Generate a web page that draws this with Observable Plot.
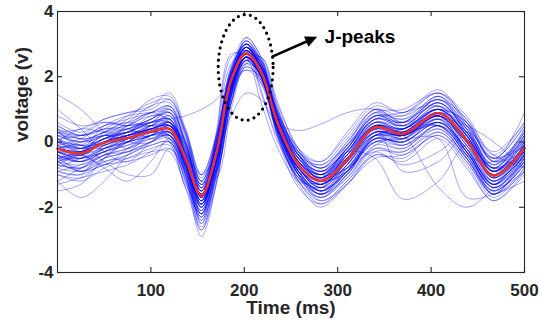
<!DOCTYPE html>
<html><head><meta charset="utf-8">
<script src="https://cdn.jsdelivr.net/npm/d3@7"></script>
<script src="https://cdn.jsdelivr.net/npm/@observablehq/plot@0.6"></script>
<style>html,body{margin:0;padding:0;background:#fff}#chart{width:540px;height:327px}</style>
</head><body><div id="chart"></div>
<script>
// time knots (ms) at which each trace was read
const knots = [0,25,50,75,100,120,137,154,170,186,202,218,236,258,282,310,340,370,408,438,467,500];
// mean (red) waveform
const meanV = [-0.2,-0.35,-0.02,0.12,0.32,0.4,-0.5,-1.65,-0.35,1.9,2.72,2.15,0.55,-0.7,-1.19,-0.55,0.45,0.25,0.88,0.05,-1.03,-0.19];
// individual (blue) waveforms
const traceValues = [
[-0.1,-0.2,0.1,0.3,0.6,0.7,-0.3,-1.8,-0.4,2.1,3.1,2.5,0.7,-0.6,-1.2,-0.4,0.6,0.4,1.1,0.2,-1.0,-0.1],
[-0.5,-0.6,-0.3,-0.1,0.1,0.2,-0.8,-2.0,-0.6,1.7,2.6,2.0,0.3,-1.0,-1.5,-0.8,0.2,0.0,0.6,-0.2,-1.3,-0.4],
[0.2,0.0,0.3,0.4,0.7,0.9,0.1,-1.2,0.0,2.0,2.9,2.3,0.8,-0.4,-0.9,-0.2,0.7,0.5,1.2,0.4,-0.7,0.1],
[-0.8,-0.9,-0.5,-0.3,0.0,0.1,-1.0,-2.4,-1.0,1.5,2.8,2.4,0.6,-0.9,-1.6,-1.0,0.1,0.0,0.7,-0.3,-1.4,-0.6],
[0.0,-0.3,0.0,0.2,0.3,0.6,-0.2,-1.4,-0.1,2.2,3.0,2.2,0.4,-0.8,-1.3,-0.7,0.4,0.3,1.0,0.0,-1.2,-0.3],
[-0.3,-0.5,-0.2,0.0,0.4,0.3,-0.9,-2.2,-0.8,1.6,2.5,1.9,0.4,-0.8,-1.4,-0.6,0.5,0.3,0.9,0.1,-1.1,-0.2],
[0.4,0.2,0.5,0.7,0.9,1.1,0.3,-1.0,0.2,2.3,3.2,2.6,1.0,-0.3,-0.8,0.0,0.9,0.7,1.4,0.6,-0.6,0.3],
[-1.0,-1.2,-0.8,-0.5,-0.2,-0.1,-1.2,-2.6,-1.2,1.2,2.4,2.1,0.5,-1.2,-1.8,-1.2,-0.2,-0.3,0.4,-0.5,-1.6,-0.8],
[-0.2,-0.1,0.2,0.2,0.5,0.5,-0.6,-1.9,-0.5,1.8,2.9,2.4,0.8,-0.5,-1.0,-0.4,0.3,0.2,0.8,0.0,-0.9,0.0],
[0.1,-0.1,0.1,0.5,0.8,0.8,0.0,-1.5,-0.3,1.9,2.7,2.0,0.3,-0.9,-1.1,-0.3,0.7,0.6,1.3,0.3,-0.8,0.2],
[-0.4,-0.6,-0.1,0.1,0.4,0.2,-1.2,-2.1,0.2,2.6,2.8,1.6,0.0,-1.0,-1.3,-0.3,0.6,0.4,1.0,-0.3,-1.2,-0.1],
[-0.6,-0.4,-0.2,0.0,0.2,0.5,-0.1,-1.3,-0.9,1.2,2.6,2.6,1.1,-0.2,-1.1,-0.8,0.2,0.3,0.9,0.4,-0.8,-0.5],
[0.3,0.1,0.2,0.3,0.6,0.7,-0.6,-1.6,0.0,2.3,3.0,2.1,0.2,-1.1,-1.4,-0.5,0.5,0.2,0.7,-0.2,-1.3,-0.2],
[-0.7,-0.8,-0.4,-0.2,0.1,0.3,-0.4,-1.7,-0.7,1.4,2.5,2.3,0.9,-0.4,-1.2,-0.9,0.0,0.1,0.8,0.3,-0.9,-0.4],
[-0.1,-0.3,0.1,0.3,0.5,0.4,-0.7,-2.0,-0.4,1.9,2.8,2.2,0.5,-0.7,-1.3,-0.5,0.5,0.4,1.1,0.1,-1.1,-0.2],
[1.45,1.0,0.3,-0.2,0.2,0.5,-0.3,-1.3,-0.2,1.6,2.2,1.8,0.6,-0.4,-0.8,-0.3,0.6,0.5,0.9,0.3,-0.5,0.5],
[-1.2,-1.7,-1.2,-0.4,0.3,0.6,-0.4,-1.9,-0.6,1.7,2.6,2.0,0.5,-0.8,-1.3,-0.6,0.4,0.2,0.8,0.0,-1.0,-0.3],
[-0.5,-0.4,-0.8,-1.2,-0.6,0.1,-0.8,-2.2,-0.9,1.5,2.5,2.0,0.4,-0.9,-1.5,-0.9,0.1,0.0,0.6,-0.3,-1.4,-0.5],
[-0.3,-0.2,0.0,0.2,0.4,0.5,-0.6,-1.6,-0.3,1.8,2.6,2.0,0.6,0.35,0.55,0.9,1.0,0.5,0.5,-0.3,-1.2,-0.4],
[-0.3,-0.5,-0.1,0.1,0.3,0.4,-0.5,-1.5,-0.4,1.7,2.6,2.1,0.6,-0.6,-1.0,-0.3,-0.5,-1.75,-1.2,-0.1,-0.8,-0.3],
[-0.4,-0.6,-0.3,0.0,0.2,0.3,-0.7,-1.8,-0.5,1.6,2.5,2.0,0.4,-0.8,-1.4,-0.7,0.2,0.1,0.1,-1.7,-1.6,-1.2],
[0.0,-0.2,0.1,0.4,0.6,0.6,-0.4,-1.7,-0.3,2.0,2.9,2.3,0.6,-0.6,-1.1,-0.4,0.5,0.3,0.5,-0.4,-0.6,0.9],
[-0.6,-0.7,-0.4,-0.2,0.2,0.3,-0.6,-1.8,-0.5,1.8,2.7,2.1,0.5,-0.7,-1.2,-0.8,-0.3,-0.7,-0.3,0.3,-0.4,-0.8],
[-0.2,0.0,0.3,0.5,0.6,0.7,0.8,1.0,1.3,1.9,2.2,2.0,0.6,-0.5,-0.9,-0.3,0.5,0.4,1.0,0.2,-0.9,-0.2],
[-0.2,-0.3,0.0,0.1,0.2,0.3,-0.3,-1.0,-0.4,0.8,1.5,1.3,0.4,-0.5,-0.9,-0.5,0.2,0.2,0.6,0.1,-0.8,-0.3],
[-0.3,-0.5,-0.3,0.0,0.4,0.6,-1.0,-2.9,-1.3,1.4,2.9,2.5,0.6,-0.9,-1.6,-0.9,0.3,0.2,0.9,0.0,-1.3,-0.4],
[0.0,-0.2,0.2,0.4,0.7,0.9,-0.8,-2.7,-1.0,1.6,3.2,2.6,0.8,-0.7,-1.5,-0.7,0.5,0.3,1.0,0.2,-1.1,-0.1],
[-0.4,-0.6,-0.2,0.1,0.5,0.8,-0.6,-2.5,-0.9,1.5,3.0,2.5,0.7,-1.0,-1.7,-1.0,0.2,0.1,0.8,-0.1,-1.4,-0.5],
[0.3,0.4,0.7,0.9,1.1,1.5,0.4,-1.1,0.1,2.1,2.9,2.3,0.6,-0.6,-1.0,-0.3,0.7,0.5,1.2,0.3,-0.9,0.0],
[0.5,0.2,0.4,0.8,1.2,1.3,0.2,-1.3,-0.1,2.0,2.8,2.2,0.7,-0.5,-1.1,-0.4,0.8,0.8,1.5,0.5,-0.7,0.4],
[-0.1,0.1,0.5,0.6,0.9,1.0,0.0,-1.5,-0.2,1.9,3.1,2.5,0.9,-0.4,-1.0,-0.2,0.8,0.6,1.3,0.5,-0.8,0.2],
[-0.9,-1.0,-0.7,-0.6,-0.4,-0.2,-1.1,-2.3,-1.1,1.3,2.3,1.9,0.3,-1.1,-1.7,-1.1,-0.1,-0.2,0.5,-0.4,-1.5,-0.7],
[-1.3,-1.1,-0.9,-0.7,-0.3,0.0,-0.9,-2.1,-0.8,1.4,2.4,1.8,0.2,-1.2,-1.9,-1.3,-0.3,-0.3,0.3,-0.5,-1.6,-0.9],
[-0.6,-0.9,-0.6,-0.4,0.0,0.2,-0.7,-1.9,-0.6,1.6,2.6,2.1,0.5,-0.9,-1.5,-0.9,0.1,0.0,0.6,-0.2,-1.3,-0.6],
[-0.2,-0.4,0.0,0.2,0.4,0.5,-0.4,-1.6,-0.3,2.0,2.8,2.2,0.6,-0.7,-1.2,-0.5,0.5,0.3,0.9,0.1,-1.0,-0.2],
[-0.3,-0.3,0.1,0.0,0.3,0.4,-0.5,-1.7,-0.4,1.8,2.7,2.1,0.5,-0.8,-1.3,-0.6,0.4,0.2,0.8,0.0,-1.1,-0.3],
[0.1,-0.2,-0.1,0.2,0.5,0.6,-0.3,-1.5,-0.2,2.0,2.8,2.3,0.7,-0.6,-1.1,-0.5,0.6,0.4,1.0,0.2,-0.9,-0.1],
[-0.4,-0.5,0.1,0.3,0.3,0.2,-0.7,-1.8,-0.5,1.7,2.6,2.0,0.4,-0.8,-1.2,-0.4,0.5,0.2,0.8,-0.1,-1.0,-0.2],
[0.0,-0.1,-0.2,0.1,0.4,0.6,-0.5,-1.6,-0.2,2.1,2.9,2.1,0.3,-0.9,-1.3,-0.6,0.3,0.3,1.0,0.2,-1.2,-0.4],
[-0.5,-0.3,0.0,0.3,0.3,0.4,-0.4,-1.7,-0.5,1.8,2.7,2.2,0.6,-0.6,-1.0,-0.5,0.4,0.1,0.9,0.1,-1.0,-0.1],
[-0.3,-0.4,0.0,0.2,0.3,0.5,0.0,-1.2,-1.1,1.0,2.4,2.6,1.2,-0.3,-1.2,-0.9,0.1,0.3,0.9,0.5,-0.6,-0.3],
[0.2,0.0,0.2,0.1,0.3,0.6,-0.2,-1.4,-0.9,1.2,2.5,2.5,1.0,-0.4,-1.0,-0.8,0.2,0.4,1.0,0.6,-0.5,-0.1],
[-0.1,-0.4,0.0,0.3,0.5,0.1,-1.3,-1.9,0.3,2.7,2.6,1.2,-0.2,-1.2,-1.2,-0.2,0.6,0.3,0.8,-0.4,-1.3,0.0],
[-0.5,-0.5,-0.2,0.2,0.4,0.0,-1.4,-2.2,0.0,2.4,2.7,1.5,0.1,-1.1,-1.4,-0.3,0.5,0.2,0.7,-0.5,-1.5,-0.3],
[-0.2,-0.3,0.0,0.2,0.4,0.5,-0.5,-1.7,-0.4,1.8,2.7,2.1,0.5,-0.7,-1.2,-0.5,0.4,0.2,-1.4,-2.0,-1.4,-0.4],
[0.6,0.3,0.7,0.9,1.0,1.3,0.3,-1.2,0.1,2.2,3.1,2.4,0.9,-0.2,-0.6,0.2,1.1,0.9,1.6,0.6,-0.5,0.5],
[-1.0,-1.1,-0.6,-0.5,-0.3,-0.3,-1.4,-2.7,-1.3,1.2,2.3,1.9,0.1,-1.4,-1.9,-1.2,-0.4,-0.6,0.1,-0.8,-1.8,-1.0],
[0.4,-0.2,0.5,0.8,0.9,0.9,-0.2,-1.5,-0.1,2.2,3.0,2.4,0.9,-0.3,-0.7,0.1,1.0,0.8,1.3,0.7,-0.6,0.2],
[-0.9,-1.0,-0.2,0.0,0.2,0.6,-0.6,-2.2,-0.7,1.6,2.7,2.2,0.3,-1.2,-1.7,-1.0,-0.2,-0.4,0.2,-0.6,-1.7,-0.8],
[0.1,0.2,0.6,0.5,0.6,1.0,0.2,-1.4,0.1,2.2,3.0,2.3,0.8,-0.2,-0.8,0.0,1.0,0.6,1.2,0.3,-0.7,0.3],
[-0.7,-0.4,-0.7,-0.2,0.2,0.1,-0.9,-2.3,-0.8,1.5,2.6,2.1,0.2,-1.1,-1.6,-1.1,-0.1,0.2,0.5,-0.4,-1.4,-0.9],
[0.3,0.0,0.2,0.6,1.1,1.2,0.4,-1.0,0.2,2.1,2.9,2.3,0.7,-0.4,-0.7,-0.1,0.9,1.0,1.5,0.8,-0.4,0.6],
[-0.6,-0.9,-0.7,-0.4,-0.1,0.0,-1.1,-2.5,-1.0,1.4,2.6,2.2,0.5,-1.0,-1.8,-1.3,-0.4,-0.5,0.3,-0.6,-1.6,-0.6],
[0.0,0.4,0.3,0.3,0.8,0.7,-0.1,-1.3,-0.1,2.0,2.8,2.2,0.7,-0.3,-0.8,-0.1,0.8,0.7,1.1,0.5,-0.5,0.0],
[-0.5,-0.8,-0.1,0.4,0.1,0.2,-1.0,-2.3,-0.6,1.7,2.8,2.3,0.5,-1.0,-1.6,-0.8,0.0,-0.2,0.5,-0.4,-1.6,-0.5],
[0.2,0.1,-0.1,0.3,0.7,1.0,0.0,-1.4,-0.2,2.0,2.9,2.3,0.6,-0.5,-1.0,-0.2,0.9,0.4,1.4,0.2,-0.8,0.3],
[-0.8,-0.5,-0.3,0.2,0.3,0.3,-0.7,-2.0,-0.6,1.7,2.6,2.1,0.4,-0.9,-1.5,-0.9,0.0,0.1,0.6,-0.3,-1.4,-0.6],
[0.5,0.2,0.4,0.4,0.6,0.9,-0.1,-1.5,-0.2,2.0,2.9,2.3,0.8,-0.4,-0.9,-0.2,0.8,0.6,1.3,0.4,-0.8,0.4],
[-0.4,-0.9,-0.5,0.1,0.3,0.4,-0.8,-2.2,-0.7,1.6,2.7,2.2,0.4,-1.0,-1.6,-0.8,0.1,-0.1,0.5,-0.2,-1.6,-0.4],
[0.1,-0.3,0.3,0.6,0.5,0.8,-0.3,-1.7,-0.2,2.0,2.9,2.2,0.6,-0.5,-1.0,-0.2,0.8,0.5,1.2,0.3,-0.9,0.1],
[-0.3,-0.6,-0.3,-0.1,0.2,0.2,-0.7,-1.9,-0.5,1.8,2.7,2.1,0.4,-0.9,-1.5,-0.9,0.1,0.0,0.6,-0.2,-1.3,-0.5],
[0.8,0.5,0.6,0.5,0.7,1.1,0.0,-1.6,-0.3,1.9,2.8,2.2,0.7,-0.4,-0.9,-0.1,0.7,0.9,1.1,0.1,-0.9,0.2],
[-1.2,-0.8,-0.4,0.0,0.5,0.7,-0.4,-2.0,-0.6,1.7,2.6,2.0,0.3,-1.0,-1.5,-0.7,0.2,-0.1,0.4,-0.5,-1.5,-0.7],
[0.3,-0.1,0.0,0.5,0.9,0.6,-0.6,-1.8,-0.3,2.1,2.9,2.2,0.6,-0.6,-1.1,-0.1,1.0,0.6,1.0,0.6,-0.6,-0.1],
[-0.6,-0.3,0.2,0.0,0.0,0.5,-0.5,-1.9,-0.6,1.7,2.7,2.1,0.4,-0.8,-1.4,-1.0,0.2,0.4,0.8,-0.3,-1.3,-0.2],
[1.0,0.4,-0.3,-0.6,0.0,0.3,-0.6,-1.8,-0.5,1.7,2.6,2.0,0.5,-0.6,-1.1,-0.5,0.3,0.1,0.7,0.0,-1.0,-0.1],
[-1.5,-1.3,-0.5,0.0,0.4,0.5,-0.6,-2.0,-0.6,1.7,2.7,2.1,0.5,-0.8,-1.4,-0.7,0.3,0.2,0.8,-0.1,-1.2,-0.4],
[-0.2,-0.1,-0.6,-1.0,-1.0,-0.2,-0.9,-1.9,-0.5,1.7,2.6,2.0,0.4,-0.8,-1.3,-0.6,0.3,0.2,0.8,0.0,-1.1,-0.3],
[-0.3,-0.4,0.0,0.2,0.4,0.5,-0.5,-1.7,-0.4,1.8,2.7,2.1,0.5,-0.7,-1.2,-0.5,0.4,-0.9,-0.6,0.2,-0.9,-0.2],
[-0.2,-0.3,0.0,0.1,0.3,0.4,-0.6,-1.8,-0.4,1.8,2.7,2.1,0.4,-0.8,-1.3,-0.6,0.3,0.2,0.7,0.5,0.0,-0.8],
[0.3,0.2,0.4,0.5,0.9,1.1,-0.1,-1.6,-0.3,2.0,3.0,2.4,0.7,-0.5,-1.1,-0.3,0.7,0.6,1.4,0.4,-0.9,0.1],
[-0.7,-0.8,-0.5,-0.3,0.0,0.2,-0.8,-2.1,-0.8,1.5,2.6,2.1,0.4,-1.0,-1.6,-0.9,0.0,-0.1,0.5,-0.3,-1.5,-0.7],
[0.4,0.1,0.3,0.7,1.3,1.4,0.3,-1.2,0.0,2.1,3.0,2.4,0.8,-0.3,-0.6,0.3,1.2,0.9,1.5,0.7,-0.3,0.6],
[-0.9,-0.7,-0.4,-0.3,-0.1,0.0,-1.0,-2.4,-0.9,1.4,2.5,2.0,0.2,-1.3,-2.0,-1.3,-0.5,-0.4,0.2,-0.7,-1.8,-0.9],
[0.1,-0.2,0.1,0.3,0.6,0.7,-0.4,-1.6,-0.2,2.0,2.9,2.2,0.6,-0.6,-1.1,-0.4,0.5,0.4,1.0,0.2,-0.9,0.0]
];
const xTicks = [100,200,300,400,500];
const yTicks = [-4,-2,0,2,4];
const xLabel = "Time (ms)";
const yLabel = "voltage (v)";
const noteText = "J-peaks";

const W = 540, H = 327, ml = 57, mr = 16, mt = 11, mb = 55;
const pw = W - ml - mr, ph = H - mt - mb;
const FONT = "Helvetica, Arial, 'Liberation Sans', sans-serif";
const INK = "#262626";

const rows = traceValues.flatMap((vals, i) => vals.map((v, j) => ({id: i, t: knots[j], v})));
const meanRows = meanV.map((v, j) => ({t: knots[j], v}));

const chart = Plot.plot({
  width: W, height: H,
  marginLeft: ml, marginRight: mr, marginTop: mt, marginBottom: mb,
  style: {fontFamily: FONT, fontSize: "17px", fontWeight: "bold", color: INK, background: "white", overflow: "visible"},
  x: {domain: [0, 500], ticks: xTicks, tickSize: 0, tickPadding: 11, label: null, tickFormat: d => String(d)},
  y: {domain: [-4, 4], ticks: yTicks, tickSize: 0, tickPadding: 4, label: null, tickFormat: d => String(d)},
  marks: [
    Plot.line(rows, {x: "t", y: "v", z: "id", stroke: "#0000ff", strokeOpacity: 0.45, strokeWidth: 0.8, curve: "catmull-rom"}),
    Plot.line(meanRows, {x: "t", y: "v", stroke: "#e8342a", strokeWidth: 2.6, curve: "catmull-rom"}),
    Plot.frame({stroke: INK, strokeWidth: 1.1}),
    Plot.tickY(yTicks, {y: d => d, insetRight: pw - 5, stroke: INK, strokeWidth: 1.1}),
    Plot.tickY(yTicks, {y: d => d, insetLeft: pw - 5, stroke: INK, strokeWidth: 1.1}),
    Plot.tickX(xTicks, {x: d => d, insetTop: ph - 5, stroke: INK, strokeWidth: 1.1}),
    Plot.tickX(xTicks, {x: d => d, insetBottom: ph - 5, stroke: INK, strokeWidth: 1.1}),
    Plot.text([xLabel], {frameAnchor: "bottom", dy: 41, text: d => d, fontSize: 19, fontWeight: "bold", fill: INK}),
    Plot.text([yLabel], {frameAnchor: "left", dx: -36, rotate: -90, text: d => d, fontSize: 19, fontWeight: "bold", fill: INK}),
    Plot.text([noteText], {x: () => 286, y: () => 3.21, text: d => d, textAnchor: "start", fontSize: 19, fontWeight: "bold", fill: "#000"})
  ]
});
document.getElementById("chart").appendChild(chart);

// annotation: dotted ellipse around the J-peaks and an arrow pointing to the label
const sx = chart.scale("x"), sy = chart.scale("y");
const svg = d3.select(chart);
const ell = {t: 202, v: 2.27, dt: 29.4, dv: 1.62};
const cx = sx.apply(ell.t), cy = sy.apply(ell.v);
svg.append("ellipse")
  .attr("cx", cx).attr("cy", cy)
  .attr("rx", sx.apply(ell.t + ell.dt) - cx)
  .attr("ry", sy.apply(ell.v - ell.dv) - cy)
  .attr("fill", "none").attr("stroke", "#000").attr("stroke-width", 3.2)
  .attr("stroke-linecap", "round").attr("stroke-dasharray", "0 6.2");
const a0 = [sx.apply(230.5), sy.apply(2.60)], a1 = [sx.apply(278.6), sy.apply(3.21)];
const dx = a1[0] - a0[0], dy = a1[1] - a0[1], len = Math.hypot(dx, dy);
const ux = dx / len, uy = dy / len, hl = 12, hw = 5.5;
const bx = a1[0] - ux * hl, by = a1[1] - uy * hl;
svg.append("line").attr("x1", a0[0]).attr("y1", a0[1]).attr("x2", bx + ux).attr("y2", by + uy)
  .attr("stroke", "#000").attr("stroke-width", 2.6);
svg.append("path")
  .attr("d", `M${a1[0]},${a1[1]}L${bx - uy * hw},${by + ux * hw}L${bx + uy * hw},${by - ux * hw}Z`)
  .attr("fill", "#000");
</script>
</body></html>
